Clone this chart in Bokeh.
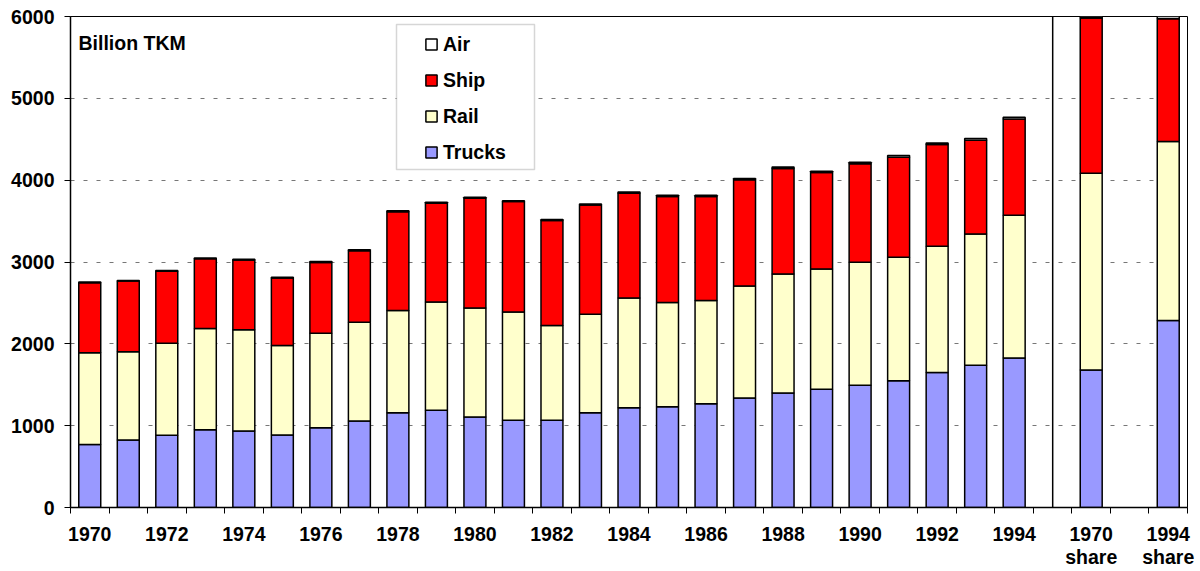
from bokeh.plotting import figure
from bokeh.models import (Range1d, FixedTicker, Legend, LegendItem, BoxAnnotation,
                          Label, ColumnDataSource, Span)
from bokeh.embed import file_html
from bokeh.resources import INLINE

# ---- data (Billion TKM) ----
categories = [str(y) for y in range(1970, 1995)] + ["", "1970 share", "", "1994 share"]
trucks = [770, 825, 883, 951, 935, 887, 976, 1057, 1159, 1188, 1106, 1066, 1066, 1159,
          1220, 1232, 1268, 1338, 1399, 1444, 1493, 1549, 1651, 1737, 1826,
          None, 1679, None, 2285]
rail = [1120, 1077, 1125, 1237, 1236, 1093, 1154, 1208, 1248, 1324, 1333, 1324, 1158, 1203,
        1341, 1273, 1261, 1369, 1455, 1471, 1503, 1508, 1540, 1604, 1744,
        None, 2406, None, 2187]
ship = [857, 865, 878, 853, 854, 825, 865, 874, 1207, 1206, 1339, 1348, 1284, 1335,
        1280, 1296, 1271, 1297, 1289, 1178, 1206, 1224, 1244, 1148, 1178,
        None, 1898, None, 1500]
air = [8, 8, 9, 9, 10, 10, 10, 11, 11, 12, 12, 12, 12, 13,
       14, 14, 15, 16, 17, 17, 18, 19, 20, 21, 22,
       None, 17, None, 28]
series = ["trucks", "rail", "ship", "air"]
series_labels = ["Trucks", "Rail", "Ship", "Air"]
colors = ["#9999FF", "#FFFFCC", "#FF0000", "#FFFFFF"]

FONT = "Liberation Sans"
FS = "19.5px"

keep = [i for i, v in enumerate(trucks) if v is not None]
src = ColumnDataSource(dict(
    x=[i + 0.5 for i in keep],
    trucks=[trucks[i] for i in keep],
    rail=[rail[i] for i in keep],
    ship=[ship[i] for i in keep],
    air=[air[i] for i in keep],
))

n = len(categories)
p = figure(width=1200, height=571, output_backend="svg", toolbar_location=None,
           x_range=Range1d(0, n), y_range=Range1d(0, 6000),
           min_border_left=70, min_border_right=13, min_border_top=16, min_border_bottom=64)

renderers = p.vbar_stack(series, x="x", width=0.57, source=src, fill_color=colors,
                         line_color="black", line_width=1.5)

# separator between yearly bars and share bars
sep = categories.index("") + 0.5
p.add_layout(Span(location=sep, dimension="height", line_color="black", line_width=1.5))

# axes
p.xgrid.visible = False
p.ygrid.grid_line_color = "#777777"
p.ygrid.grid_line_dash = "4 9"
p.ygrid.grid_line_width = 1
p.outline_line_color = "black"
p.outline_line_width = 1

label_idx = [i for i in range(n) if i % 2 == 0]
p.xaxis.ticker = FixedTicker(ticks=[i + 0.5 for i in label_idx],
                             minor_ticks=list(range(0, n + 1)))
p.xaxis.major_label_overrides = {i + 0.5: categories[i].replace(" ", "\n") for i in label_idx}
p.xaxis.major_tick_out = 0
p.xaxis.major_tick_in = 0
p.xaxis.minor_tick_out = 6
p.xaxis.minor_tick_in = 0
p.xaxis.minor_tick_line_color = "black"
p.xaxis.major_label_standoff = 9
p.xaxis.major_label_text_line_height = 1.08

p.yaxis.ticker = FixedTicker(ticks=list(range(0, 6001, 1000)))
p.yaxis.major_tick_out = 6
p.yaxis.major_tick_in = 0
p.yaxis.minor_tick_line_color = None
p.yaxis.major_label_standoff = 10

for ax in (p.xaxis, p.yaxis):
    ax.axis_line_color = "black"
    ax.axis_line_width = 1.5
    ax.major_tick_line_color = "black"
    ax.major_label_text_font = FONT
    ax.major_label_text_font_size = FS
    ax.major_label_text_font_style = "bold"
    ax.major_label_text_color = "black"

# unit label
p.add_layout(Label(x=8, y=465, x_units="screen", y_units="screen", text="Billion TKM",
                   text_font=FONT, text_font_size=FS, text_font_style="bold",
                   text_color="black", text_baseline="alphabetic"))

# legend box
p.add_layout(BoxAnnotation(left=326, right=464, top=483, bottom=338,
                           left_units="screen", right_units="screen",
                           top_units="screen", bottom_units="screen",
                           fill_color="white", fill_alpha=1.0,
                           line_color="#777777", line_width=1.5))

items = [LegendItem(label=series_labels[k], renderers=[renderers[k]]) for k in (3, 2, 1, 0)]
legend = Legend(items=items, location=(354, 343), orientation="vertical",
                border_line_alpha=0, background_fill_alpha=0,
                padding=0, margin=0, spacing=12,
                glyph_width=14, glyph_height=14, label_height=24, label_standoff=5,
                label_text_font=FONT, label_text_font_size=FS,
                label_text_font_style="bold", label_text_color="black")
p.add_layout(legend, "center")

open("out.html", "w").write(file_html(p, INLINE))
